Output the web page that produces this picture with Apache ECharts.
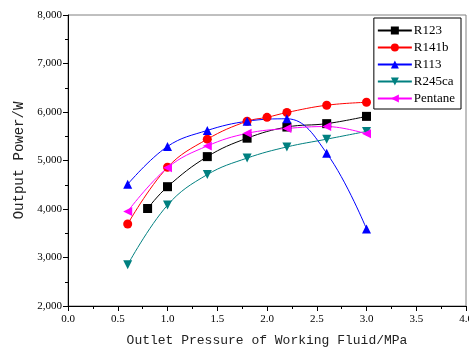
<!DOCTYPE html>
<html>
<head>
<meta charset="utf-8">
<script src="https://cdn.jsdelivr.net/npm/echarts@6/dist/echarts.min.js"></script>
<style>
  html, body { margin: 0; padding: 0; background: #fff; }
  #chart { width: 469px; height: 351px; }
</style>
</head>
<body>
<div id="chart"></div>
<script>
// pressure (MPa) and output power (W)
const r123X = [0.8, 1.0, 1.4, 1.8, 2.2, 2.6, 3.0];
const r123Y = [4010, 4460, 5080, 5460, 5690, 5760, 5910];
const r141bX = [0.6, 1.0, 1.4, 1.8, 2.0, 2.2, 2.6, 3.0];
const r141bY = [3690, 4860, 5440, 5810, 5890, 5990, 6140, 6200];
const r113X = [0.6, 1.0, 1.4, 1.8, 2.2, 2.6, 3.0];
const r113Y = [4510, 5290, 5620, 5810, 5860, 5150, 3590];
const r245caX = [0.6, 1.0, 1.4, 1.8, 2.2, 2.6, 3.0];
const r245caY = [2850, 4080, 4710, 5050, 5280, 5440, 5600];
const pentaneX = [0.6, 1.0, 1.4, 1.8, 2.2, 2.6, 3.0];
const pentaneY = [3950, 4850, 5300, 5560, 5660, 5700, 5550];

function pairs(xs, ys) {
    let out = [];
    for (let i = 0; i < xs.length; i++) out.push([xs[i], ys[i]]);
    return out;
}

function makeSeries(name, xs, ys, color, symbol, rotate) {
    return {
        name: name,
        type: 'line',
        data: pairs(xs, ys),
        smooth: 0.4,
        symbol: symbol,
        symbolSize: 9,
        symbolRotate: rotate,
        lineStyle: { color: color, width: 1 },
        itemStyle: { color: color },
        emphasis: { disabled: true }
    };
}

const serif = '"Liberation Serif", "Times New Roman", serif';
const mono = '"Liberation Mono", monospace';

const myChart = echarts.init(document.getElementById('chart'), null, { renderer: 'canvas' });

let option = {
    animation: false,
    grid: {
        left: 68, right: 3, top: 15, bottom: 45,
        outerBoundsMode: 'none',
        show: true, borderColor: '#808080', borderWidth: 1
    },
    legend: {
        orient: 'vertical',
        right: 8,
        top: 18,
        padding: [6, 6, 4, 3],
        itemWidth: 34,
        itemHeight: 10,
        itemGap: 4,
        borderColor: '#000',
        borderWidth: 1,
        textStyle: { fontFamily: serif, fontSize: 13, color: '#000', padding: [0, 0, 0, -3] },
        data: ['R123', 'R141b', 'R113', 'R245ca', 'Pentane']
    },
    xAxis: {
        type: 'value',
        min: 0,
        max: 4,
        interval: 0.5,
        name: 'Outlet Pressure of Working Fluid/MPa',
        nameLocation: 'middle',
        nameGap: 28,
        nameTextStyle: { fontFamily: mono, fontSize: 13, color: '#222' },
        axisLine: { show: true, lineStyle: { color: '#000', width: 1 } },
        axisTick: { show: true, length: 5, lineStyle: { color: '#000' } },
        minorTick: { show: true, splitNumber: 2, length: 3, lineStyle: { color: '#000' } },
        splitLine: { show: false },
        axisLabel: {
            fontFamily: serif, fontSize: 11, color: '#000', margin: 8,
            formatter: function (v) { return v.toFixed(1); }
        }
    },
    yAxis: {
        type: 'value',
        min: 2000,
        max: 8000,
        interval: 1000,
        name: 'Output Power/W',
        nameLocation: 'middle',
        nameGap: 42,
        nameTextStyle: { fontFamily: mono, fontSize: 14, color: '#222' },
        axisLine: { show: true, lineStyle: { color: '#000', width: 1 } },
        axisTick: { show: true, length: 5, lineStyle: { color: '#000' } },
        minorTick: { show: true, splitNumber: 2, length: 3, lineStyle: { color: '#000' } },
        splitLine: { show: false },
        axisLabel: {
            fontFamily: serif, fontSize: 11, color: '#000', margin: 6,
            formatter: function (v) { return v.toLocaleString('en-US'); }
        }
    },
    series: [
        makeSeries('R123', r123X, r123Y, '#000000', 'rect', 0),
        makeSeries('R141b', r141bX, r141bY, '#ff0000', 'circle', 0),
        makeSeries('R113', r113X, r113Y, '#0000ff', 'triangle', 0),
        makeSeries('R245ca', r245caX, r245caY, '#008080', 'triangle', 180),
        makeSeries('Pentane', pentaneX, pentaneY, '#ff00ff', 'triangle', 90)
    ]
};

option && myChart.setOption(option);
</script>
</body>
</html>
